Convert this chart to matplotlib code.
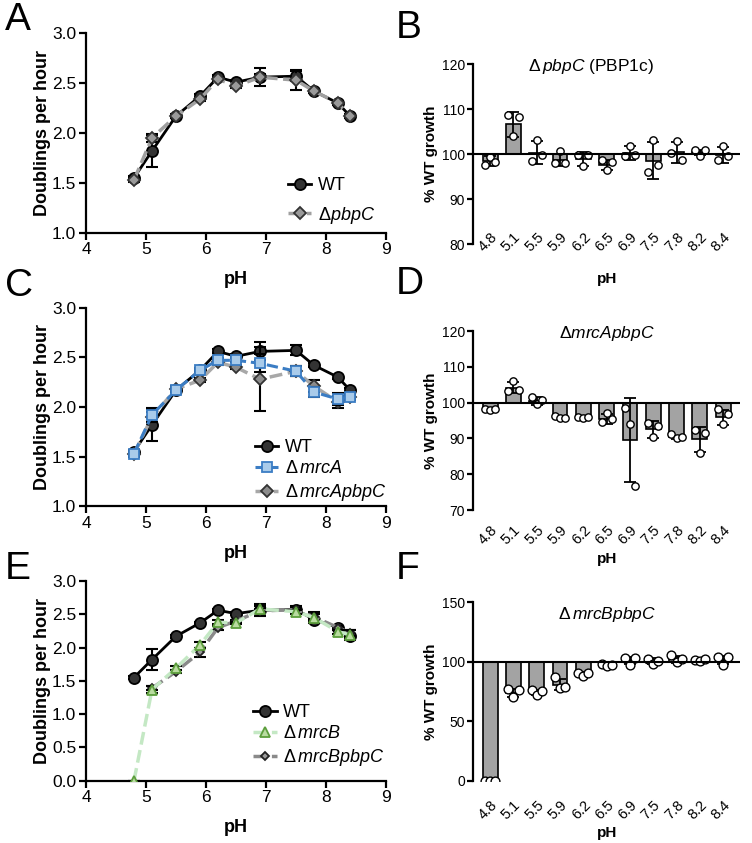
"""
growth vs pH for PBP mutants (line panels) and % WT growth (bar panels)
"""

import numpy as np
import matplotlib
matplotlib.use('Agg')
import matplotlib.pyplot as plt

plt.rcParams['font.family'] = ['Liberation Sans', 'DejaVu Sans']
plt.rcParams['mathtext.fontset'] = 'custom'
plt.rcParams['mathtext.rm'] = 'Liberation Sans'
plt.rcParams['mathtext.it'] = 'Liberation Sans:italic'

# ---- data ----
ph = [4.8, 5.1, 5.5, 5.9, 6.2, 6.5, 6.9, 7.5, 7.8, 8.2, 8.4]
ph_labels = ['4.8', '5.1', '5.5', '5.9', '6.2', '6.5', '6.9', '7.5', '7.8', '8.2', '8.4']

wt_mean = [1.55, 1.82, 2.17, 2.37, 2.56, 2.51, 2.56, 2.57, 2.42, 2.30, 2.17]
wt_sd = [0.02, 0.16, 0.02, 0.02, 0.02, 0.02, 0.09, 0.05, 0.02, 0.02, 0.02]

pbpc_mean = [1.53, 1.95, 2.17, 2.34, 2.54, 2.47, 2.56, 2.53, 2.42, 2.30, 2.17]
pbpc_sd = [0.02, 0.04, 0.02, 0.02, 0.02, 0.02, 0.03, 0.10, 0.02, 0.02, 0.02]

mrca_mean = [1.53, 1.92, 2.17, 2.37, 2.47, 2.47, 2.44, 2.36, 2.15, 2.08, 2.10]
mrca_sd = [0.03, 0.07, 0.02, 0.02, 0.02, 0.02, 0.09, 0.05, 0.05, 0.06, 0.03]

mrcapbpc_mean = [1.53, 1.90, 2.18, 2.27, 2.45, 2.40, 2.28, 2.36, 2.21, 2.05, 2.10]
mrcapbpc_sd = [0.02, 0.05, 0.03, 0.02, 0.03, 0.02, 0.32, 0.05, 0.06, 0.06, 0.02]

mrcb_mean = [0.0, 1.37, 1.69, 2.04, 2.38, 2.37, 2.58, 2.54, 2.45, 2.24, 2.19]
mrcb_sd = [0.0, 0.05, 0.03, 0.04, 0.03, 0.02, 0.05, 0.03, 0.08, 0.03, 0.07]

mrcbpbpc_mean = [np.nan, 1.39, 1.64, 1.93, 2.30, 2.40, 2.55, 2.57, 2.46, 2.30, 2.22]
mrcbpbpc_sd = [np.nan, 0.03, 0.02, 0.07, 0.03, 0.02, 0.03, 0.03, 0.04, 0.03, 0.05]

# % WT growth, bar = mean, error = SD, three replicates (left, middle, right)
b_mean = [98.4, 106.6, 100.3, 98.7, 98.9, 97.6, 100.3, 98.5, 100.4, 100.4, 99.8]
b_sd = [1.1, 2.8, 2.6, 1.3, 1.5, 1.2, 1.5, 4.1, 2.3, 0.6, 1.8]
b_points = [[97.5, 99.4, 98.3], [108.7, 104.0, 108.3], [98.4, 103.1, 99.7],
            [98.1, 100.7, 98.1], [99.9, 97.3, 99.8], [98.6, 96.4, 98.2],
            [99.6, 101.9, 99.7], [96.0, 103.1, 97.5], [100.2, 102.9, 98.6],
            [101.0, 99.6, 100.9], [98.6, 101.8, 99.6]]

d_mean = [98.1, 104.2, 100.4, 95.7, 95.8, 95.4, 89.5, 92.5, 90.3, 89.7, 95.9]
d_sd = [0.2, 1.5, 1.2, 0.3, 0.3, 1.3, 11.8, 2.3, 0.5, 3.6, 2.1]
d_points = [[98.1, 98.0, 98.2], [103.3, 106.1, 103.4], [101.5, 99.6, 100.6],
            [96.2, 95.7, 95.8], [96.1, 95.7, 95.9], [94.6, 97.0, 95.4],
            [98.6, 94.1, 76.7], [94.4, 90.3, 93.5], [91.1, 90.2, 90.5],
            [92.4, 85.8, 91.6], [98.1, 94.0, 96.7]]

f_mean = [0.0, 73.8, 74.5, 81.0, 90.0, 97.3, 101.0, 101.0, 102.3, 101.3, 101.8]
f_sd = [0.0, 3.2, 2.0, 5.0, 1.5, 1.2, 3.0, 2.6, 3.0, 1.0, 3.5]
f_points = [[0.0, 0.0, 0.0], [77.5, 70.5, 76.5], [76.0, 72.5, 75.5],
            [87.0, 78.0, 78.5], [90.5, 88.5, 91.0], [98.0, 96.5, 97.5],
            [103.0, 97.5, 103.0], [102.5, 98.5, 101.0], [106.0, 100.0, 102.0],
            [101.5, 100.5, 102.0], [104.0, 97.5, 104.0]]

JITTER = [-0.22, 0.0, 0.22]

W, H = 752, 843


def ax_px(fig, left, top, right, bottom):
    return fig.add_axes([left / W, 1 - bottom / H, (right - left) / W, (bottom - top) / H])


def style_line_axes(ax, ylim, yticks):
    ax.set_xlim(4, 9)
    ax.set_ylim(*ylim)
    ax.set_xticks([4, 5, 6, 7, 8, 9])
    ax.set_yticks(yticks)
    ax.set_yticklabels(['%.1f' % t for t in yticks])
    for s in ['top', 'right']:
        ax.spines[s].set_visible(False)
    for s in ['left', 'bottom']:
        ax.spines[s].set_linewidth(1.6)
    ax.tick_params(width=1.6, length=5, labelsize=12.5, pad=2)
    ax.set_xlabel('pH', fontsize=13, fontweight='bold', labelpad=10)
    ax.set_ylabel('Doublings per hour', fontsize=13, fontweight='bold', labelpad=1)


def series(ax, mean, sd, marker, ms, face, edge, line, ls, lw, label, z):
    ax.errorbar(ph, mean, yerr=sd, fmt='none', ecolor='black', elinewidth=1.5,
                capsize=4, capthick=1.5, zorder=z)
    h, = ax.plot(ph, mean, ls=ls, color=line, lw=lw, marker=marker, ms=ms,
                 mfc=face, mec=edge, mew=1.3, label=label, zorder=z + 0.5)
    return h


def legend(ax, handles, anchor, spacing):
    ax.legend(handles=handles, loc='upper left', bbox_to_anchor=anchor, frameon=False,
              fontsize=13, handlelength=1.3, handletextpad=0.35, borderpad=0,
              labelspacing=spacing)


def bar_panel(ax, mean, sd, points, ylim, yticks, title, title_xy, pad, xlabelpad, ms):
    x = np.arange(len(ph_labels))
    heights = np.array(mean) - 100
    ax.bar(x, heights, bottom=100, width=0.64, color='#a3a3a3', edgecolor='black',
           linewidth=1.2, zorder=2)
    ax.errorbar(x, mean, yerr=sd, fmt='none', ecolor='black', elinewidth=1.3,
                capsize=4, capthick=1.3, zorder=3)
    pts = np.array(points)
    for j, off in enumerate(JITTER):
        ax.scatter(x + off, pts[:, j], s=ms, facecolor='white', edgecolor='black',
                   linewidth=1.0, zorder=4)
    ax.axhline(100, color='black', lw=1.5, zorder=5)
    ax.set_xlim(-0.72, 10.72)
    ax.set_ylim(*ylim)
    ax.set_yticks(yticks)
    ax.set_xticks(x)
    ax.set_xticklabels(ph_labels, rotation=45, ha='right', rotation_mode='anchor')
    for s in ['top', 'right', 'bottom']:
        ax.spines[s].set_visible(False)
    ax.spines['left'].set_linewidth(1.6)
    ax.tick_params(axis='y', width=1.6, length=4, labelsize=10, pad=2)
    ax.tick_params(axis='x', length=0, labelsize=10.5, pad=pad)
    ax.set_ylabel('% WT growth', fontsize=11, fontweight='bold', labelpad=3)
    ax.set_xlabel('pH', fontsize=11, fontweight='bold', labelpad=xlabelpad)
    ax.text(title_xy[0], title_xy[1], title, transform=ax.transAxes, fontsize=12.5,
            ha='center', va='center')


fig = plt.figure(figsize=(W / 100, H / 100), dpi=100)

# panel A
ax = ax_px(fig, 86, 33.3, 386, 232.7)
style_line_axes(ax, (1.0, 3.0), [1.0, 1.5, 2.0, 2.5, 3.0])
h1 = series(ax, wt_mean, wt_sd, 'o', 8, '#333333', 'black', 'black', '-', 2.0, 'WT', 3)
h2 = series(ax, pbpc_mean, pbpc_sd, 'D', 6.5, '#9a9a9a', '#333333', '#a0a0a0', '--', 2.5,
            r'$\Delta\mathit{pbpC}$', 5)
legend(ax, [h1, h2], (0.643, 0.325), 0.6)

# panel C
ax = ax_px(fig, 86, 307.7, 386, 506.3)
style_line_axes(ax, (1.0, 3.0), [1.0, 1.5, 2.0, 2.5, 3.0])
h1 = series(ax, wt_mean, wt_sd, 'o', 8, '#333333', 'black', 'black', '-', 2.0, 'WT', 3)
h3 = series(ax, mrcapbpc_mean, mrcapbpc_sd, 'D', 6.5, '#8c8c8c', '#333333', '#a8a8a8', '--', 2.5,
            r'$\Delta\,\mathit{mrcApbpC}$', 5)
h2 = series(ax, mrca_mean, mrca_sd, 's', 7, '#a9cbea', '#3b7dc4', '#3b7dc4', '--', 2.2,
            r'$\Delta\,\mathit{mrcA}$', 7)
legend(ax, [h1, h2, h3], (0.533, 0.385), 0.25)

# panel E
ax = ax_px(fig, 86, 581, 386, 780.7)
style_line_axes(ax, (0.0, 3.0), [0.0, 0.5, 1.0, 1.5, 2.0, 2.5, 3.0])
h1 = series(ax, wt_mean, wt_sd, 'o', 8, '#333333', 'black', 'black', '-', 2.0, 'WT', 3)
h3 = series(ax, mrcbpbpc_mean, mrcbpbpc_sd, 'D', 4.5, '#9a9a9a', '#222222', '#8a8a8a', '--', 2.5,
            r'$\Delta\,\mathit{mrcBpbpC}$', 5)
h2 = series(ax, mrcb_mean, mrcb_sd, '^', 7, '#b9dca0', '#5c9e3c', '#c4e8c4', '--', 2.5,
            r'$\Delta\,\mathit{mrcB}$', 7)
legend(ax, [h1, h2, h3], (0.527, 0.43), 0.25)

# panel B
ax = ax_px(fig, 473.3, 64.3, 740, 244)
bar_panel(ax, b_mean, b_sd, b_points, (80, 120), [80, 90, 100, 110, 120],
          r'$\Delta\,\mathit{pbpC}$ (PBP1c)', (0.44, 0.985), -10, 13, 28)

# panel D
ax = ax_px(fig, 473.3, 331, 740, 510)
bar_panel(ax, d_mean, d_sd, d_points, (70, 120), [70, 80, 90, 100, 110, 120],
          r'$\Delta\mathit{mrcApbpC}$', (0.5, 0.985), 9, 4, 28)

# panel F
ax = ax_px(fig, 473.3, 602.3, 740, 781)
bar_panel(ax, f_mean, f_sd, f_points, (0, 150), [0, 50, 100, 150],
          r'$\Delta\,\mathit{mrcBpbpC}$', (0.5, 0.93), 12, 3, 40)

# panel letters
for letter, x, y in [('A', 5, 2), ('B', 396, 10), ('C', 5, 268), ('D', 396, 266),
                     ('E', 5, 551), ('F', 396, 551)]:
    fig.text(x / W, 1 - y / H, letter, fontsize=28, va='top', ha='left')

fig.savefig('out.png', dpi=100)
